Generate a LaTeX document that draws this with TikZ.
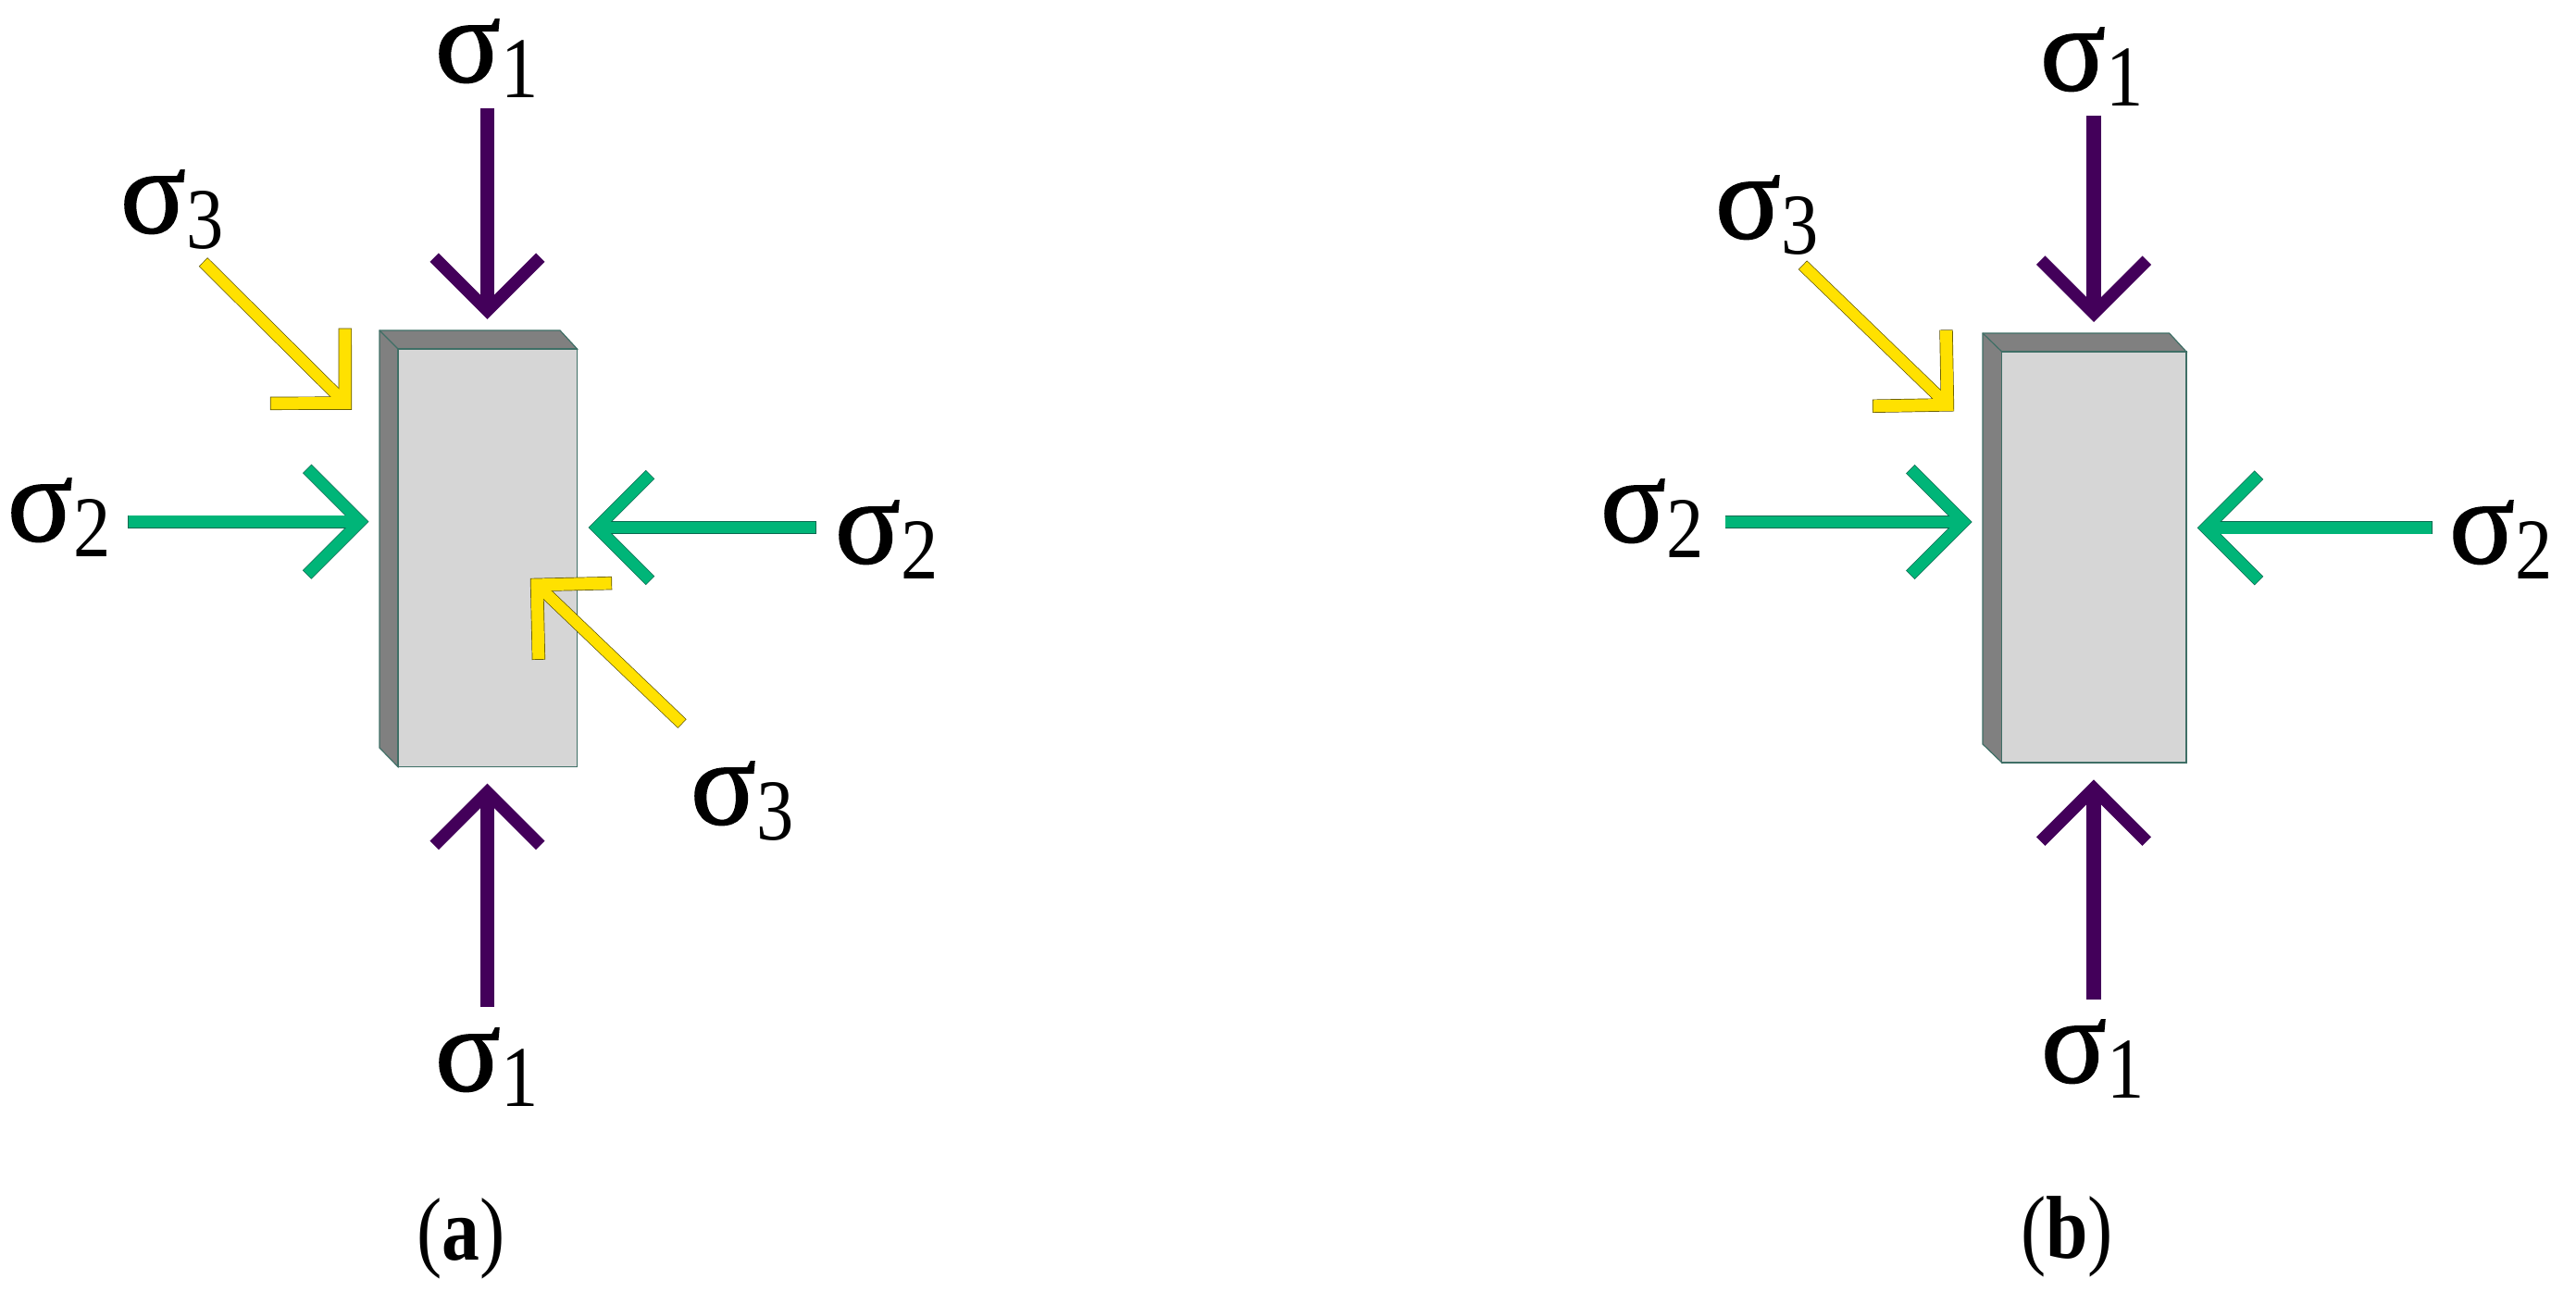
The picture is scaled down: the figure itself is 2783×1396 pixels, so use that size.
\documentclass[tikz,border=0pt]{standalone}
\usepackage{fontspec}
\setmainfont{Liberation Serif}
\newfontfamily\sigfont[FakeBold=1.2]{Liberation Serif}
\usetikzlibrary{calc}
\definecolor{plum}{HTML}{43005A}
\definecolor{grn}{HTML}{00B578}
\definecolor{grnedge}{HTML}{0A6A50}
\definecolor{yel}{HTML}{FFE100}
\definecolor{yeledge}{HTML}{5A5000}
\definecolor{facec}{HTML}{D6D6D6}
\definecolor{sidec}{HTML}{808080}
\definecolor{edgec}{HTML}{3F6F66}
\newcommand{\siglab}[1]{{\fontsize{132}{132}\sigfont σ\kern1bp\raisebox{-17bp}{\scalebox{0.86}[1]{\fontsize{94}{94}\selectfont\rmfamily #1}}}}
% #1 shaft width, #2 wing width, #3 fill, #4 edge, #5 start, #6 tip
\newcommand{\stressarrow}[6]{%
  \coordinate (apex) at ($(#6)!8.5bp!(#5)$);
  \coordinate (wingL) at ($(apex)!81bp!45:(#5)$);
  \coordinate (wingR) at ($(apex)!81bp!-45:(#5)$);
  \draw[draw=#4,line width=#1+1.4bp] (#5) -- (apex);
  \draw[draw=#4,line width=#2+1.4bp,line join=miter,miter limit=10] (wingL) -- (apex) -- (wingR);
  \draw[draw=#3,line width=#1,shorten <=0.7bp] (#5) -- (apex);
  \draw[draw=#3,line width=#2,line join=miter,miter limit=10,shorten <=0.7bp,shorten >=0.7bp] (wingL) -- (apex) -- (wingR);
}
\newcommand{\purplearrow}[2]{\stressarrow{14.5bp}{12bp}{plum}{plum}{#1}{#2}}
\newcommand{\greenarrow}[2]{\stressarrow{12.5bp}{12bp}{grn}{grnedge}{#1}{#2}}
\newcommand{\yellowarrow}[2]{\stressarrow{12bp}{13bp}{yel}{yeledge}{#1}{#2}}
\tikzset{
 x=1bp,y=-1bp,
 siglabel/.style={anchor=north west,inner sep=0pt,outer sep=0pt,text=black},
 caption/.style={inner sep=0pt,outer sep=0pt},
 face/.style={fill=facec,draw=edgec,line width=1.5bp,line join=miter},
 side/.style={fill=sidec,draw=edgec,line width=1.2bp,line join=miter}
}
\begin{document}
\begin{tikzpicture}
\useasboundingbox (0,0) rectangle (2783,1396);
% panel a block
\draw[side] (410,357) -- (605,357) -- (623.5,377) -- (430,377) -- (430,828.5) -- (410,808) -- cycle;
\draw[side] (410,357) -- (430,377);
\draw[face] (430,377) rectangle (623.5,828.5);
% panel b block
\draw[side] (2142,360) -- (2343.6,360) -- (2362,380) -- (2162.7,380) -- (2162.7,824) -- (2142,804) -- cycle;
\draw[side] (2142,360) -- (2162.7,380);
\draw[face] (2162.7,380) rectangle (2362,824);
% coordinates
\coordinate (a1ts) at (526.5,117.5); \coordinate (a1tt) at (526.5,344);
\coordinate (a1bs) at (526.5,1087.5); \coordinate (a1bt) at (526.5,847.6);
\coordinate (a2ls) at (138,563.7); \coordinate (a2lt) at (397.5,563.7);
\coordinate (a2rs) at (882,570); \coordinate (a2rt) at (636.7,570);
\coordinate (a3ts) at (219.5,283); \coordinate (a3tt) at (379,441.6);
\coordinate (a3bs) at (737,782); \coordinate (a3bt) at (574,626);
\coordinate (b1ts) at (2262,125); \coordinate (b1tt) at (2262,347);
\coordinate (b1bs) at (2262,1079.5); \coordinate (b1bt) at (2262,843.4);
\coordinate (b2ls) at (1863.7,564); \coordinate (b2lt) at (2129.6,564);
\coordinate (b2rs) at (2627.5,570.3); \coordinate (b2rt) at (2374.7,570.3);
\coordinate (b3ts) at (1947.5,286.3); \coordinate (b3tt) at (2110,443.3);
% arrows
\purplearrow{a1ts}{a1tt}
\purplearrow{a1bs}{a1bt}
\greenarrow{a2ls}{a2lt}
\greenarrow{a2rs}{a2rt}
\yellowarrow{a3ts}{a3tt}
\yellowarrow{a3bs}{a3bt}
\purplearrow{b1ts}{b1tt}
\purplearrow{b1bs}{b1bt}
\greenarrow{b2ls}{b2lt}
\greenarrow{b2rs}{b2rt}
\yellowarrow{b3ts}{b3tt}
% labels
\node[siglabel] (la1t) at (470,21) {\siglab{1}};
\node[siglabel] (la1b) at (470,1111) {\siglab{1}};
\node[siglabel] (la3t) at (130,184) {\siglab{3}};
\node[siglabel] (la3b) at (746,823) {\siglab{3}};
\node[siglabel] (la2l) at (8,517) {\siglab{2}};
\node[siglabel] (la2r) at (902,541) {\siglab{2}};
\node[siglabel] (lb1t) at (2204,30) {\siglab{1}};
\node[siglabel] (lb1b) at (2205,1102) {\siglab{1}};
\node[siglabel] (lb3t) at (1853,190) {\siglab{3}};
\node[siglabel] (lb2l) at (1729,518) {\siglab{2}};
\node[siglabel] (lb2r) at (2646,541) {\siglab{2}};
\node[caption] (capa) at (498,1338) {\scalebox{1}[1.18]{\fontsize{82}{82}\selectfont (\textbf{a})}};
\node[caption] (capb) at (2233,1336) {\scalebox{1}[1.18]{\fontsize{82}{82}\selectfont (\textbf{b})}};
\end{tikzpicture}
\end{document}
